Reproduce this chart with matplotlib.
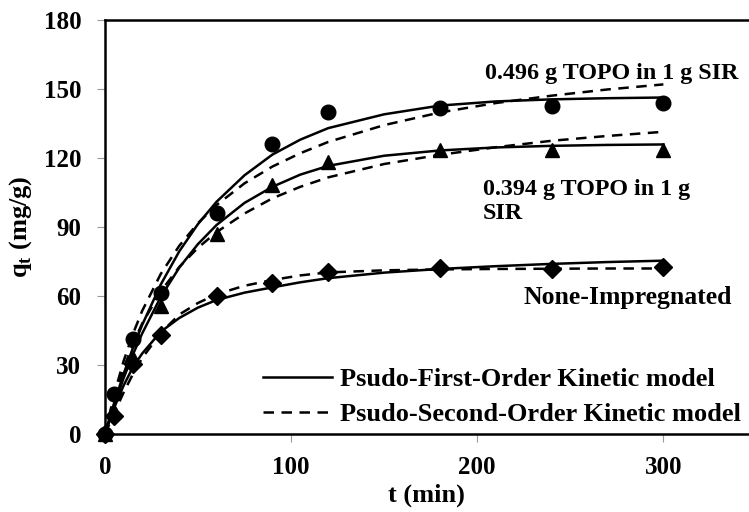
import matplotlib
matplotlib.use("Agg")
import matplotlib.pyplot as plt
from matplotlib.lines import Line2D

# measured points (t in min, qt in mg/g)
t_exp = [0, 5, 15, 30, 60, 90, 120, 180, 240, 300]
q_topo496 = [0, 17.5, 41.3, 61.2, 96, 126, 140, 141.8, 142.5, 144]
q_topo394 = [0, 10, 33, 55.5, 87.2, 108.3, 118.1, 123.5, 123.5, 123.5]
q_none = [0, 8, 30.5, 43, 60, 65.5, 70.5, 72.4, 71.6, 72.5]

# model curves
t_fit = [0, 5, 10, 15, 20, 30, 40, 50, 60, 75, 90, 105, 120, 150, 180, 210, 240, 270, 300]
pfo_496 = [0, 13.6, 26, 37.3, 47.4, 65, 79.5, 91.3, 101, 112.5, 121.5, 128, 133, 139, 142.8, 144.6, 145.5, 146, 146.3]
pso_496 = [0, 17.3, 31.6, 43.4, 53.5, 69.6, 81.9, 91.7, 99.6, 109, 116.3, 122.1, 127, 134.3, 139.8, 143.9, 147.1, 149.8, 152]
pfo_394 = [0, 12.7, 24.2, 34.5, 43.7, 59.6, 72.4, 82.6, 90.9, 100.5, 107.5, 112.8, 116.6, 121, 123.3, 124.6, 125.3, 125.7, 125.9]
pso_394 = [0, 15.8, 28.5, 39.1, 48, 62, 72.7, 81, 87.8, 95.9, 102.5, 107.5, 111.6, 117.4, 121.4, 124.7, 127.5, 129.6, 131.4]
pfo_none = [0, 11.5, 21, 29, 35, 44.5, 50.5, 55, 58.3, 61.5, 63.8, 66, 67.8, 70.2, 71.8, 73, 74, 74.8, 75.4]
pso_none = [0, 9, 18, 26, 33, 44, 52, 57, 60.8, 64.5, 67, 69, 70.3, 71.2, 71.6, 71.8, 71.9, 72, 72]

serif = ["Liberation Serif", "DejaVu Serif"]
plt.rcParams["font.family"] = serif
plt.rcParams["font.weight"] = "bold"

fig = plt.figure(figsize=(7.49, 5.12), dpi=100)
ax = fig.add_axes([0.140, 0.152, 0.860, 0.809])

lw = 1.8
dash = (0, (4.2, 3))
for pfo, pso in [(pfo_496, pso_496), (pfo_394, pso_394), (pfo_none, pso_none)]:
    ax.plot(t_fit, pfo, color="black", lw=lw, zorder=3)
    ax.plot(t_fit, pso, color="black", lw=lw, ls=dash, zorder=3)

ax.plot(t_exp, q_topo496, "o", color="black", ms=10.5, zorder=4, clip_on=False)
ax.plot(t_exp, q_topo394, "^", color="black", ms=10.5, zorder=4, clip_on=False)
ax.plot(t_exp, q_none, "D", color="black", ms=9, zorder=4, clip_on=False)

ax.set_xlim(0, 346)
ax.set_ylim(0, 180)
ax.set_xticks([0, 100, 200, 300])
ax.set_yticks(range(0, 181, 30))
ax.tick_params(direction="out", length=6, width=0.8, color="#999999",
               labelsize=18)
ax.tick_params(axis="x", pad=10)
ax.tick_params(axis="y", pad=11)
for lab in ax.get_xticklabels() + ax.get_yticklabels():
    lab.set_fontweight("bold")

for side in ["left", "bottom", "top"]:
    ax.spines[side].set_linewidth(1.8)
ax.spines["right"].set_visible(False)

ax.set_xlabel("t (min)", fontsize=19, fontweight="bold", labelpad=3)
ax.set_ylabel(r"q$_\mathregular{t}$ (mg/g)", fontsize=19, fontweight="bold", labelpad=7)

txt = dict(fontsize=17.3, fontweight="bold", color="black")
ax.text(204, 156.8, "0.496 g TOPO in 1 g SIR", va="center", ha="left", **txt)
ax.text(203, 111, "0.394 g TOPO in 1 g\nSIR", va="top", ha="left", linespacing=1.2, **txt)
ax.text(225, 59.3, "None-Impregnated", va="center", ha="left",
        **dict(txt, fontsize=18.5))

handles = [Line2D([], [], color="black", lw=lw),
           Line2D([], [], color="black", lw=lw, ls=dash)]
leg = ax.legend(handles, ["Psudo-First-Order Kinetic model",
                          "Psudo-Second-Order Kinetic model"],
                loc="lower right", bbox_to_anchor=(0.988, 0.02), frameon=False,
                borderpad=0, borderaxespad=0,
                handlelength=2.65, handletextpad=0.3, labelspacing=0.42,
                prop={"family": serif, "weight": "bold", "size": 19})

fig.savefig("out.png", dpi=100)
